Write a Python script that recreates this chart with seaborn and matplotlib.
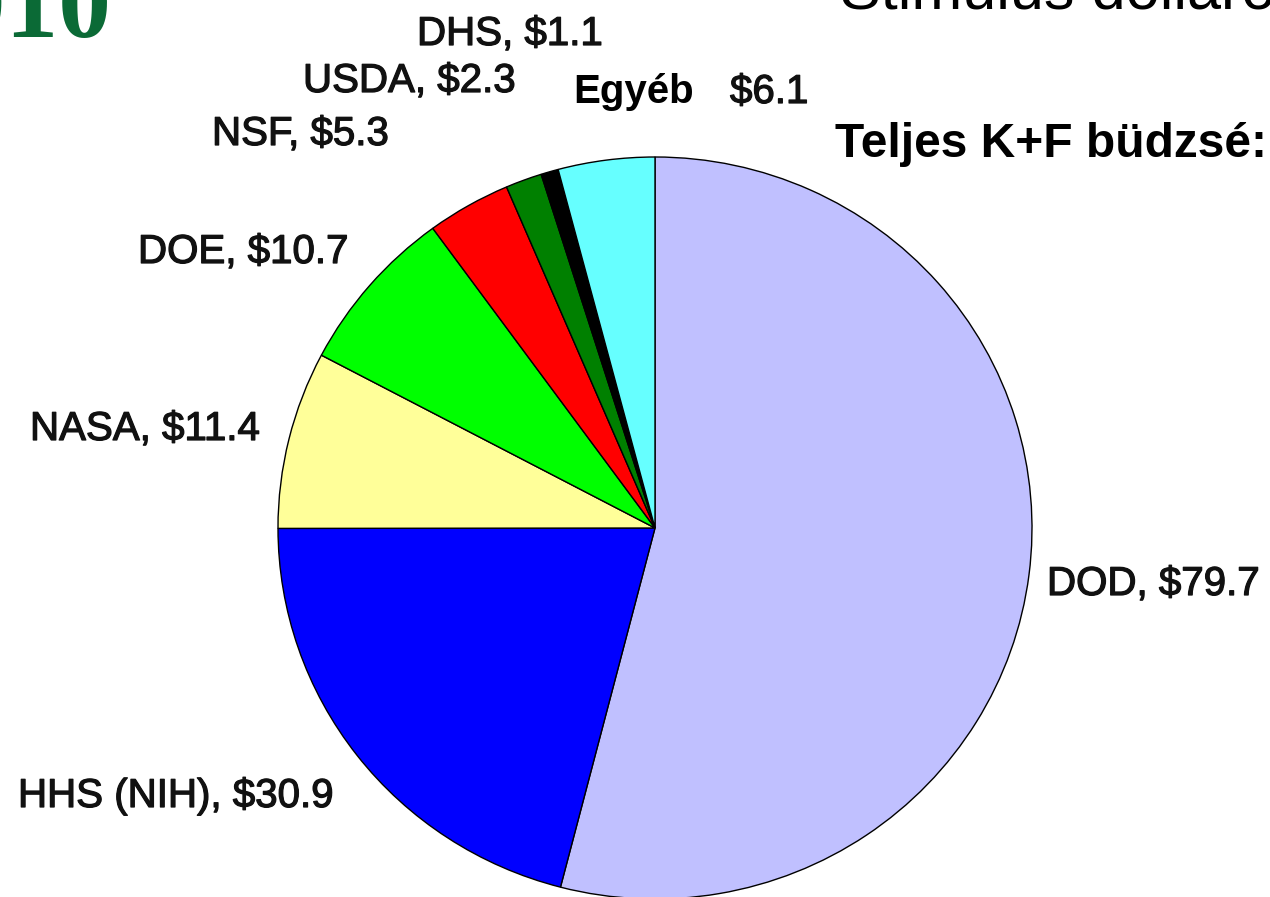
import matplotlib
matplotlib.use("Agg")
import matplotlib.pyplot as plt
import matplotlib.patheffects as pe
import seaborn as sns

sns.set_theme(style="white")
plt.rcParams['font.family'] = ['Liberation Sans', 'DejaVu Sans']

# Data (billions of dollars)
agencies = ["DOD", "HHS (NIH)", "NASA", "DOE", "NSF", "USDA", "DHS", "Egyéb"]
values = [79.7, 30.9, 11.4, 10.7, 5.3, 2.3, 1.1, 6.1]
label_texts = ["DOD, $79.7", "HHS (NIH), $30.9", "NASA, $11.4", "DOE, $10.7",
               "NSF, $5.3", "USDA, $2.3", "DHS, $1.1"]
colors = ["#C0C0FF", "#0000FF", "#FFFF99", "#00FF00", "#FF0000", "#008000",
          "#000000", "#66FFFF"]

W, H = 1270, 897
fig = plt.figure(figsize=(W / 100, H / 100), dpi=100)
fig.patch.set_facecolor("white")

# Pie axes (slightly elliptical, as in the reference)
cx, cy, rx, ry = 655, 528, 377, 371
ax = fig.add_axes([0, 0, 1, 1])
ax.pie(values, colors=colors, startangle=90, counterclock=False,
       wedgeprops=dict(edgecolor="black", linewidth=1.0))
ax.set_aspect("auto")
ax.set_xlim(-cx / rx, (W - cx) / rx)
ax.set_ylim(-(H - cy) / ry, cy / ry)
ax.axis("off")

# Overlay axes in pixel coordinates for the text
tx = fig.add_axes([0, 0, 1, 1])
tx.set_xlim(0, W)
tx.set_ylim(H, 0)
tx.axis("off")
tx.patch.set_alpha(0)

thick = [pe.withStroke(linewidth=0.9, foreground="#111111")]
lab_pos = [(1047, 595), (18, 807), (30, 440), (138, 263), (212, 145),
           (303, 92), (417, 45)]
for t, (x, y) in zip(label_texts, lab_pos):
    tx.text(x, y, t, fontsize=29, color="#111111", ha="left", va="baseline",
            path_effects=thick)

tx.text(573, 103, "Egyéb", fontsize=29, fontweight="bold", color="black",
        ha="left", va="baseline")
tx.text(730, 103, "$6.1", fontsize=29, color="#111111", ha="left",
        va="baseline", path_effects=thick)

tx.text(835, 157, "Teljes K+F büdzsé:", fontsize=34.5, fontweight="bold",
        color="black", ha="left", va="baseline")
tx.text(840, 9, "Stimulus dollárok", fontsize=44, color="black",
        ha="left", va="baseline")
tx.text(112, 37, "2010", fontsize=76, fontweight="bold", color="#0B6A36",
        family=["Liberation Serif", "DejaVu Serif"], ha="right", va="baseline")

fig.savefig("out.png", dpi=100, facecolor="white")
